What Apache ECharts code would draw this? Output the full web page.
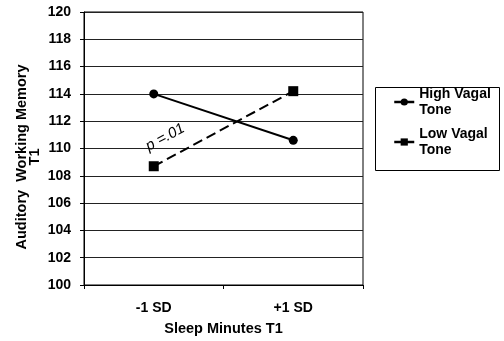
<!DOCTYPE html>
<html>
<head>
<meta charset="utf-8">
<script src="https://cdn.jsdelivr.net/npm/echarts@6/dist/echarts.min.js"></script>
<style>
  html, body { margin: 0; padding: 0; background: #fff; }
  #chart { width: 504px; height: 341px; }
</style>
</head>
<body>
<div id="chart"></div>
<script>
// Working memory by sleep minutes, split by vagal tone
const categories = ['-1 SD', '+1 SD'];
const highVagal = [114.0, 110.6];
const lowVagal = [108.7, 114.2];
const seriesNames = ['High Vagal\nTone', 'Low Vagal\nTone'];
const yMin = 100, yMax = 120, yStep = 2;
const xTitle = 'Sleep Minutes T1';
const yTitle = 'Auditory  Working Memory\nT1';
const annotation = 'p =.01';

const FONT = '"Liberation Sans", Arial, sans-serif';
const chart = echarts.init(document.getElementById('chart'), null, { renderer: 'canvas' });

const option = {
  animation: false,
  backgroundColor: '#fff',
  grid: {
    left: 84, right: 141, top: 12, bottom: 56,
    show: true, borderColor: '#000', borderWidth: 1
  },
  xAxis: {
    type: 'category',
    data: categories,
    boundaryGap: true,
    axisLine: { lineStyle: { color: '#000', width: 1 } },
    axisTick: { show: true, length: 4, inside: false, lineStyle: { color: '#000' } },
    axisLabel: { margin: 16, color: '#000', fontWeight: 'bold', fontSize: 14, fontFamily: FONT },
    name: xTitle,
    nameLocation: 'middle',
    nameGap: 36,
    nameTextStyle: { color: '#000', fontWeight: 'bold', fontSize: 14.5, fontFamily: FONT }
  },
  yAxis: {
    type: 'value',
    min: yMin, max: yMax, interval: yStep,
    axisLine: { show: true, lineStyle: { color: '#000', width: 1 } },
    axisTick: { show: true, length: 4, inside: false, lineStyle: { color: '#000' } },
    axisLabel: { margin: 13, color: '#000', fontWeight: 'bold', fontSize: 14, fontFamily: FONT },
    splitLine: { show: true, lineStyle: { color: '#222', width: 1 } }
  },
  legend: {
    orient: 'vertical',
    left: 393, top: 78,
    itemWidth: 20, itemHeight: 9,
    itemGap: -8,
    padding: 0,
    selectedMode: false,
    lineStyle: { type: 'solid', width: 2.5 },
    textStyle: {
      color: '#000', fontWeight: 'bold', fontSize: 14, fontFamily: FONT,
      lineHeight: 16, padding: [16, 0, 0, 0]
    },
    data: seriesNames
  },
  series: [
    {
      name: seriesNames[0],
      type: 'line',
      data: highVagal,
      symbol: 'circle',
      symbolSize: 9,
      itemStyle: { color: '#000' },
      lineStyle: { color: '#000', width: 2 }
    },
    {
      name: seriesNames[1],
      type: 'line',
      data: lowVagal,
      symbol: 'rect',
      symbolSize: 10,
      itemStyle: { color: '#000' },
      lineStyle: { color: '#000', width: 2, type: [10, 5] }
    }
  ]
};

chart.setOption(option);

// Place the significance note alongside the dashed line
const a = chart.convertToPixel({ seriesIndex: 1 }, [0, lowVagal[0]]);
const b = chart.convertToPixel({ seriesIndex: 1 }, [1, lowVagal[1]]);
const dx = b[0] - a[0], dy = b[1] - a[1];
const len = Math.sqrt(dx * dx + dy * dy);
const ux = dx / len, uy = dy / len;
const t = 0.15, off = 20;
const px = a[0] + dx * t + uy * off;
const py = a[1] + dy * t - ux * off;
const angle = Math.atan2(-dy, dx);

chart.setOption({
  graphic: [
    {
      type: 'rect',
      shape: { x: 375.5, y: 87.5, width: 124, height: 83 },
      style: { fill: 'none', stroke: '#000', lineWidth: 1 },
      z: 0
    },
    {
      type: 'text',
      x: 28, y: 157,
      rotation: Math.PI / 2,
      style: {
        text: yTitle, align: 'center', verticalAlign: 'middle',
        fill: '#000', font: 'bold 14.5px ' + FONT, lineHeight: 13
      }
    },
    {
      type: 'text',
      x: px, y: py,
      rotation: angle,
      style: {
        text: annotation, align: 'center', verticalAlign: 'middle',
        fill: '#000', font: 'italic 15px ' + FONT
      }
    }
  ]
});
</script>
</body>
</html>
